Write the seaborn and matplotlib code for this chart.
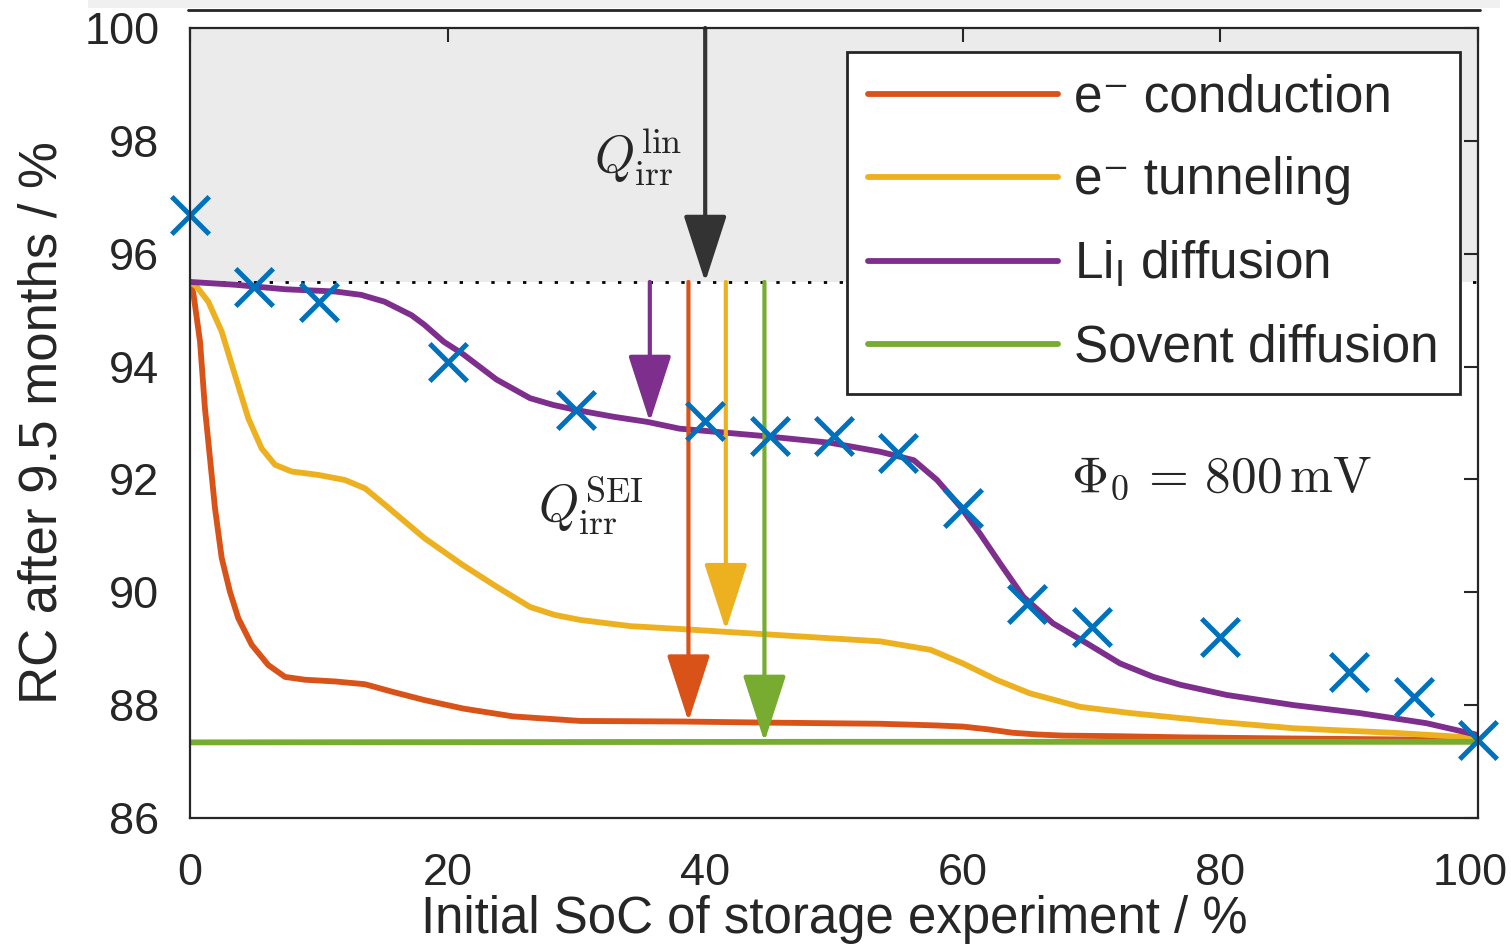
import matplotlib
matplotlib.use("Agg")
import numpy as np
import pandas as pd
import matplotlib.pyplot as plt
import matplotlib.transforms as mtransforms
import seaborn as sns
from matplotlib.lines import Line2D
from matplotlib.patches import Rectangle

# ---------------- data ----------------
x_conduction = [0, 0.26, 0.78, 1.16, 1.55, 1.94, 2.46, 3.1, 3.75, 4.79, 6.08, 7.38, 8.93,
                11.26, 13.6, 15.66, 18.2, 21.2, 25.1, 30.3, 38, 45, 53.6, 58, 60, 62,
                63.9, 65.8, 67.8, 72, 76.9, 85, 100]
y_conduction = [95.5, 95.3, 94.44, 93.26, 92.38, 91.49, 90.61, 90.01, 89.54, 89.07, 88.71,
                88.50, 88.45, 88.42, 88.37, 88.24, 88.09, 87.94, 87.80, 87.72, 87.71,
                87.69, 87.67, 87.64, 87.62, 87.57, 87.51, 87.48, 87.46, 87.45, 87.43,
                87.41, 87.38]

x_tunneling = [0, 0.5, 1.42, 2.46, 3.49, 4.53, 5.56, 6.6, 7.9, 9.96, 12.03, 13.6, 15.14,
               18.2, 21.2, 23.8, 26.4, 28.3, 30.3, 34.2, 38, 45.8, 53.6, 57.5, 60,
               62.6, 65.2, 69.1, 73, 76.9, 80, 85.7, 93.4, 100]
y_tunneling = [95.5, 95.42, 95.15, 94.62, 93.85, 93.08, 92.55, 92.26, 92.14, 92.08, 91.99,
               91.84, 91.55, 90.96, 90.48, 90.1, 89.74, 89.6, 89.51, 89.4, 89.35,
               89.24, 89.13, 88.98, 88.74, 88.45, 88.21, 87.97, 87.86, 87.77, 87.7, 87.59,
               87.51, 87.42]

x_li = [0, 3.5, 7.4, 11.3, 13.3, 15.1, 17.2, 18.2, 19.7, 21.2, 23.8, 26.4, 28.2, 30, 32.9,
        35.5, 38, 44.5, 49.7, 53.6, 56.2, 58.0, 59.8, 61.3, 62.9, 64.7, 67.0, 69.6, 72.2,
        74.8, 76.9, 80.5, 85.7, 90.8, 96, 100]
y_li = [95.5, 95.45, 95.37, 95.33, 95.27, 95.15, 94.91, 94.74, 94.44, 94.22, 93.77, 93.44,
        93.32, 93.23, 93.11, 93.02, 92.9, 92.77, 92.65, 92.49, 92.34, 91.99, 91.52, 91.05,
        90.51, 89.92, 89.45, 89.10, 88.74, 88.50, 88.36, 88.18, 88.0, 87.86, 87.68, 87.47]

x_solvent = [0, 50, 100]
y_solvent = [87.34, 87.35, 87.35]

x_meas = [0, 5, 10, 20, 30, 40, 45, 50, 55, 60, 65, 70, 80, 90, 95, 100]
y_meas = [96.69, 95.41, 95.14, 94.08, 93.23, 93.04, 92.77, 92.77, 92.47, 91.49, 89.8,
          89.39, 89.21, 88.59, 88.15, 87.38]

series_names = ["e\u207b conduction", "e\u207b tunneling", r"Li$_\mathregular{I}$ diffusion",
                "Sovent diffusion"]
series_colors = ["#D95319", "#EDB120", "#7E2F8E", "#77AC30"]

q0_level = 95.5
arrow_x = [40, 35.7, 38.7, 41.6, 44.6]
arrow_start = [100, 95.5, 95.5, 95.5, 95.5]
arrow_end = [95.5, 93.02, 87.71, 89.33, 87.35]
arrow_colors = ["#333333", "#7E2F8E", "#D95319", "#EDB120", "#77AC30"]

xticks = [0, 20, 40, 60, 80, 100]
yticks = [86, 88, 90, 92, 94, 96, 98, 100]

# ---------------- styling ----------------
sns.set_style("white")
plt.rcParams["font.family"] = ["Liberation Sans", "DejaVu Sans"]
plt.rcParams["mathtext.fontset"] = "custom"
plt.rcParams["mathtext.rm"] = "Liberation Sans"
plt.rcParams["mathtext.it"] = "Liberation Sans:italic"

dark = "#262626"
curve_lw = 4.2

fig = plt.figure(figsize=(15.11, 9.47), dpi=100)
ax = fig.add_axes([190 / 1511, 1 - 818 / 947, (1478 - 190) / 1511, (818 - 28) / 947])

# top strip (remnant of panel above)
fig.add_artist(Rectangle((88 / 1511, 1 - 8 / 947), (1500 - 88) / 1511, 8 / 947,
                         transform=fig.transFigure, color="#f0f0f0", lw=0))
fig.add_artist(Line2D([188 / 1511, 1480 / 1511], [1 - 10 / 947, 1 - 10 / 947],
                      transform=fig.transFigure, color=dark, lw=2))

# shaded region and dotted level
ax.axhspan(q0_level, 100, color="#ebebeb", lw=0, zorder=0)
ax.axhline(q0_level, color="black", lw=2, linestyle=(0, (1.2, 4.5)), zorder=1)

# curves
frames = []
for name, xs, ys in zip(series_names,
                        [x_conduction, x_tunneling, x_li, x_solvent],
                        [y_conduction, y_tunneling, y_li, y_solvent]):
    frames.append(pd.DataFrame({"soc": xs, "rc": ys, "mechanism": name}))
df = pd.concat(frames, ignore_index=True)

sns.lineplot(data=df, x="soc", y="rc", hue="mechanism", hue_order=series_names,
             palette=series_colors, linewidth=curve_lw, estimator=None, sort=False,
             legend=False, ax=ax, zorder=3)
for ln in ax.lines:
    ln.set_solid_joinstyle("round")
    ln.set_solid_capstyle("round")

# arrows
for xa, y0, y1, c in zip(arrow_x, arrow_start, arrow_end, arrow_colors):
    ax.annotate("", xy=(xa, y1), xytext=(xa, y0),
                arrowprops=dict(arrowstyle="-|>,head_length=2.1,head_width=0.68",
                                mutation_scale=20, lw=3, color=c,
                                shrinkA=0, shrinkB=0), zorder=4)

# measurements
sns.scatterplot(x=x_meas, y=y_meas, marker="x", s=27 ** 2, color="#0072BD",
                linewidth=3.6, clip_on=False, zorder=6, ax=ax)

# annotations
ax.text(34.8, 97.71, r"$Q_{\mathrm{irr}}^{\mathrm{lin}}$", math_fontfamily="cm",
        fontsize=37, ha="center", va="center", zorder=7)
ax.text(31.1, 91.53, r"$Q_{\mathrm{irr}}^{\mathrm{SEI}}$", math_fontfamily="cm",
        fontsize=37, ha="center", va="center", zorder=7)
ax.text(80.1, 92.03, r"$\Phi_0\, =\, 800\,\mathrm{mV}$", math_fontfamily="cm",
        fontsize=37, ha="center", va="center", zorder=7)

# legend
handles = [Line2D([], [], color=c, lw=curve_lw) for c in series_colors]
leg = ax.legend(handles, series_names, loc="upper right",
                bbox_to_anchor=((1460 - 190) / 1288, (818 - 52) / 790),
                borderaxespad=0, fontsize=37, handlelength=3.7, handletextpad=0.3,
                labelspacing=0.66, borderpad=0.42, fancybox=False, framealpha=1,
                edgecolor=dark)
leg.get_frame().set_linewidth(2)
leg.set_zorder(8)

# axes
ax.set_xlim(0, 100)
ax.set_ylim(86, 100)
ax.set_xticks(xticks)
ax.set_yticks(yticks)
ax.tick_params(which="both", direction="in", top=True, right=True, length=10,
               width=1.5, color=dark, labelsize=32.5, labelcolor=dark)
ax.tick_params(axis="y", pad=22)
ax.tick_params(axis="x", pad=25)
for s in ax.spines.values():
    s.set_visible(True)
    s.set_color(dark)
    s.set_linewidth(1.6)
    s.set_zorder(9)

# last x tick label sits a little inside the right edge, as in the reference
last_lab = ax.get_xticklabels()[-1]
last_lab.set_transform(last_lab.get_transform() +
                       mtransforms.ScaledTranslation(-8 / 100, 0, fig.dpi_scale_trans))

ax.set_xlabel("Initial SoC of storage experiment / %", fontsize=36.7, color=dark,
              labelpad=1)
ax.set_ylabel("RC after 9.5 months / %", fontsize=38, color=dark, labelpad=12)

fig.savefig("out.png", dpi=100)
